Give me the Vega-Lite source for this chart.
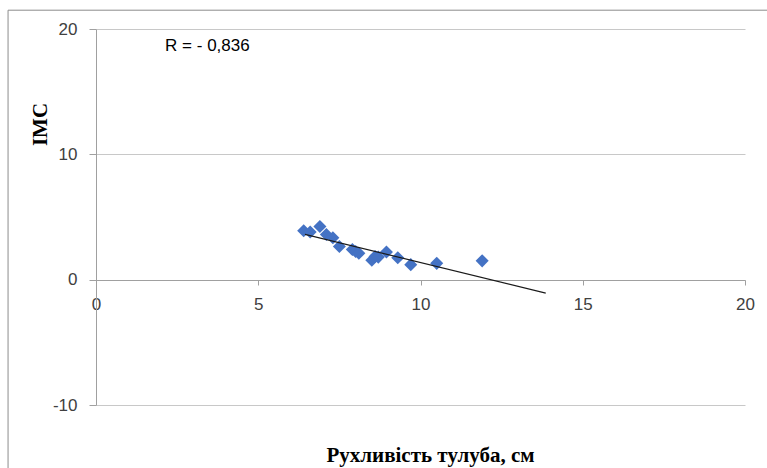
{
  "$schema": "https://vega.github.io/schema/vega-lite/v6.json",
  "width": 649,
  "height": 376,
  "autosize": {"type": "none"},
  "padding": {"left": 96, "top": 29, "right": 22, "bottom": 63},
  "background": "white",
  "config": {
    "view": {"stroke": null},
    "axis": {
      "labelFont": "Liberation Sans",
      "labelFontSize": 17,
      "labelColor": "#404040",
      "labelFlush": false,
      "labelOverlap": false,
      "titleFont": "Liberation Serif",
      "titleFontSize": 21,
      "titleFontWeight": "bold",
      "titleColor": "#000000",
      "domainColor": "#a0a0a0",
      "tickColor": "#a0a0a0",
      "gridColor": "#c8c8c8"
    }
  },
  "datasets": {
    "points": [
      {"x": 6.4, "y": 3.9},
      {"x": 6.6, "y": 3.8},
      {"x": 6.9, "y": 4.25},
      {"x": 7.1, "y": 3.6},
      {"x": 7.3, "y": 3.35},
      {"x": 7.5, "y": 2.65},
      {"x": 7.9, "y": 2.4},
      {"x": 8.0, "y": 2.25},
      {"x": 8.1, "y": 2.1},
      {"x": 8.5, "y": 1.55},
      {"x": 8.6, "y": 1.85},
      {"x": 8.7, "y": 1.8},
      {"x": 8.95, "y": 2.2},
      {"x": 9.3, "y": 1.75},
      {"x": 9.7, "y": 1.2},
      {"x": 10.5, "y": 1.3},
      {"x": 11.9, "y": 1.5}
    ],
    "trend": [
      {"x": 6.44, "y": 3.62},
      {"x": 13.86, "y": -1.08}
    ]
  },
  "layer": [
    {
      "data": {"name": "points"},
      "mark": {"type": "point", "shape": "diamond", "filled": true, "size": 170, "color": "#4472C4", "opacity": 1},
      "encoding": {
        "x": {
          "field": "x", "type": "quantitative",
          "scale": {"domain": [0, 20], "nice": false, "zero": false},
          "axis": {
            "values": [0, 5, 10, 15, 20],
            "grid": false,
            "offset": -125,
            "tickSize": 5,
            "labelPadding": 11,
            "title": "Рухливість тулуба, см",
            "titleX": 334,
            "titleY": 181,
            "titleBaseline": "alphabetic",
            "titleAnchor": null
          }
        },
        "y": {
          "field": "y", "type": "quantitative",
          "scale": {"domain": [-10, 20], "nice": false, "zero": false},
          "axis": {
            "values": [-10, 0, 10, 20],
            "labelExpr": "datum.value < 0 ? '-' + abs(datum.value) : '' + datum.value",
            "grid": true,
            "tickSize": 7,
            "labelPadding": 12,
            "title": "IMC",
            "titleX": -56,
            "titleY": 95,
            "titleAngle": -90,
            "titleAlign": "center",
            "titleBaseline": "middle"
          }
        }
      }
    },
    {
      "data": {"name": "trend"},
      "mark": {"type": "line", "color": "#1a1a1a", "strokeWidth": 1.2},
      "encoding": {
        "x": {"field": "x", "type": "quantitative"},
        "y": {"field": "y", "type": "quantitative"}
      }
    },
    {
      "data": {"values": [{}]},
      "mark": {"type": "text", "font": "Liberation Sans", "fontSize": 17, "align": "left", "baseline": "middle", "color": "#000000"},
      "encoding": {
        "x": {"datum": 2.13, "type": "quantitative"},
        "y": {"datum": 18.65, "type": "quantitative"},
        "text": {"value": "R = - 0,836"}
      }
    },
    {
      "data": {"values": [{}]},
      "mark": {"type": "rect", "fill": null, "stroke": "#8c8c8c", "strokeWidth": 1, "clip": false},
      "encoding": {
        "x": {"datum": -2.71, "type": "quantitative"},
        "x2": {"datum": 21.5},
        "y": {"datum": 21.5, "type": "quantitative"},
        "y2": {"datum": -16}
      }
    }
  ]
}
